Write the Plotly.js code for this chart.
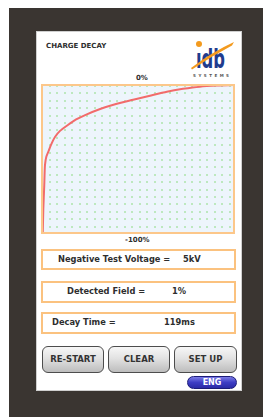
<!DOCTYPE html>
<html>
<head>
<meta charset="utf-8">
<script src="https://cdn.plot.ly/plotly-3.0.1.min.js"></script>
<style>
  html, body { margin:0; padding:0; }
  body { width:263px; height:417px; position:relative; overflow:hidden; background:#ffffff; font-family:'DejaVu Sans', sans-serif; }
  #frame { position:absolute; left:9px; top:8px; width:254px; height:409px; background:#3a3531; }
  #screen { position:absolute; left:37px; top:32px; width:204px; height:358px; background:#ffffff; box-shadow:0 0 0 1px #cfcfcf; }
  #chart { position:absolute; left:0; top:0; width:263px; height:417px; }
  .t { position:absolute; white-space:nowrap; color:#2e2e2e; }
  .box { position:absolute; box-sizing:border-box; border:2px solid #fbc27f; background:#fff; }
  .btn { position:absolute; box-sizing:border-box; border:1.5px solid #4d4d4d; border-radius:6px;
         background:linear-gradient(#f7f7f7 0%, #e2e2e2 45%, #bdbdbd 100%);
         font-weight:bold; font-size:8.5px; color:#333; text-align:center; }
  #eng { position:absolute; box-sizing:border-box; left:187px; top:376px; width:50px; height:13px; border-radius:7px;
         border:1px solid #1c1c78; background:linear-gradient(#7b7be6 0%, #3d3dc4 50%, #2a2aa6 100%);
         color:#fff; font-weight:bold; font-size:8px; text-align:center; line-height:11px; }
  #logo { position:absolute; left:185px; top:35px; overflow:visible; }
</style>
</head>
<body>
<div id="frame"></div>
<div id="screen"></div>
<div id="chart"></div>

<div class="t" style="left:46px; top:42px; font-size:7px; font-weight:bold;">CHARGE DECAY</div>

<svg id="logo" width="55" height="46" viewBox="0 0 55 46">
  <text x="11" y="33" font-family="DejaVu Sans" font-weight="bold" font-size="26" fill="#1f3c8e" textLength="29" lengthAdjust="spacingAndGlyphs">ıdb</text>
  <circle cx="14" cy="9" r="3" fill="#f39a1e"/>
  <path d="M6,33 Q27,17 49,7 L47,10.5 Q27,21 7,34.5 Z" fill="#f39a1e"/>
  <text x="8" y="42" font-family="DejaVu Sans" font-weight="bold" font-size="4" fill="#555" textLength="36" lengthAdjust="spacing">SYSTEMS</text>
</svg>

<div class="box" style="left:41px; top:249px; width:195px; height:21px;"></div>
<div class="t" style="left:58px; top:254px; font-size:8.3px; font-weight:bold;">Negative Test Voltage =</div>
<div class="t" style="left:183px; top:254px; font-size:8.3px; font-weight:bold;">5kV</div>

<div class="box" style="left:41px; top:281px; width:195px; height:22px;"></div>
<div class="t" style="left:67px; top:286px; font-size:8.3px; font-weight:bold;">Detected Field =</div>
<div class="t" style="left:172px; top:286px; font-size:8.3px; font-weight:bold;">1%</div>

<div class="box" style="left:41px; top:312px; width:195px; height:22px;"></div>
<div class="t" style="left:52px; top:317px; font-size:8.3px; font-weight:bold;">Decay Time =</div>
<div class="t" style="left:164px; top:317px; font-size:8.3px; font-weight:bold;">119ms</div>

<div class="btn" style="left:42px; top:346px; width:62px; height:27px; line-height:24px;">RE-START</div>
<div class="btn" style="left:108px; top:346px; width:62px; height:27px; line-height:24px;">CLEAR</div>
<div class="btn" style="left:174px; top:346px; width:63px; height:27px; line-height:24px;">SET UP</div>
<div id="eng">ENG</div>

<script>
// Charge decay curve: time (ms) vs detected field (% of initial, negative)
const timeMs = [2, 3.5, 6, 8, 11.5, 17, 24, 35, 48, 69, 91, 115, 155, 195, 243, 288, 333, 376, 421, 467, 512];
const fieldPct = [-100, -84, -68, -54, -48.5, -45, -40.5, -35, -31, -27, -23.3, -20.3, -16.2, -13, -10, -7.2, -4.5, -2.6, -1.1, -0.4, 0];
const yTopLabel = '0%';
const yBottomLabel = '-100%';

const trace = {
  x: timeMs, y: fieldPct, type: 'scatter', mode: 'lines',
  line: { color: '#f26b6b', width: 2, shape: 'spline', smoothing: 0.6 },
  hoverinfo: 'skip'
};

const layout = {
  width: 263, height: 417,
  margin: { l: 42, r: 29, t: 85, b: 184, pad: 0 },
  paper_bgcolor: 'rgba(0,0,0,0)',
  plot_bgcolor: '#edf5fc',
  showlegend: false,
  xaxis: {
    range: [0, 512], showticklabels: false, ticks: '', zeroline: false, showline: false,
    showgrid: true, tick0: 20.5, dtick: 20, gridcolor: '#bde8bf', gridwidth: 2, griddash: '2px,5.4px'
  },
  yaxis: {
    range: [-100, 0], showticklabels: false, ticks: '', zeroline: false, showline: false, showgrid: false
  },
  shapes: [{
    type: 'rect', xref: 'paper', yref: 'paper', x0: 0, x1: 1, y0: 0, y1: 1,
    line: { color: '#fcc78a', width: 2 }, layer: 'above'
  }],
  annotations: [
    { text: '<b>' + yTopLabel + '</b>', xref: 'paper', yref: 'paper', x: 0.52, y: 1.047,
      showarrow: false, xanchor: 'center', yanchor: 'middle', font: { family: 'DejaVu Sans', size: 7, color: '#2e2e2e' } },
    { text: '<b>' + yBottomLabel + '</b>', xref: 'paper', yref: 'paper', x: 0.497, y: -0.047,
      showarrow: false, xanchor: 'center', yanchor: 'middle', font: { family: 'DejaVu Sans', size: 7, color: '#2e2e2e' } }
  ]
};

Plotly.newPlot('chart', [trace], layout, { staticPlot: true, displayModeBar: false });
</script>
</body>
</html>
